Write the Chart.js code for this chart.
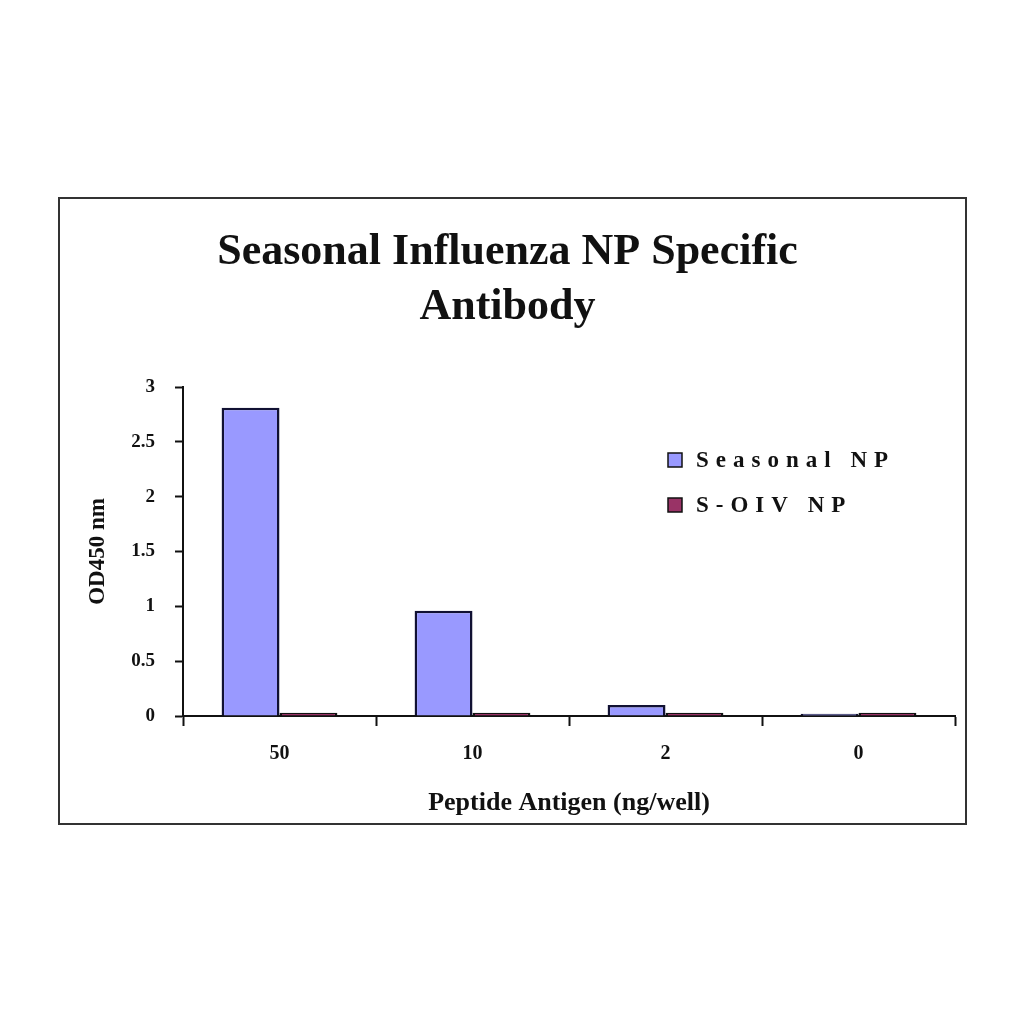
<!DOCTYPE html>
<html>
<head>
<meta charset="utf-8">
<script src="https://cdn.jsdelivr.net/npm/chart.js@4/dist/chart.umd.min.js"></script>
<style>
  body { margin: 0; background: #fff; }
  #frame {
    position: absolute;
    left: 58px; top: 197px;
    width: 905px; height: 624px;
    border: 2px solid #333;
    background: #fff;
  }
  canvas { display: block; }
</style>
</head>
<body>
<div id="frame"><canvas id="chart" width="905" height="624"></canvas></div>
<script>
const categories = ["50", "10", "2", "0"];
const seasonalNP = [2.81, 0.96, 0.1, 0.02];
const soivNP = [0.03, 0.03, 0.03, 0.03];
const seriesNames = ["Seasonal NP", "S-OIV NP"];
const titleLines = ["Seasonal Influenza NP Specific", "Antibody"];

const serif = "'Liberation Serif', 'DejaVu Serif', serif";

// legend drawn inside the plot, like the original sheet
const legendInPlot = {
  id: "legendInPlot",
  afterDraw(chart) {
    const ctx = chart.ctx;
    const area = chart.chartArea;
    ctx.save();
    chart.data.datasets.forEach((ds, i) => {
      const x = area.left + 485;
      const y = area.top + 73 + i * 45;
      ctx.fillStyle = ds.backgroundColor;
      ctx.fillRect(x, y - 7, 14, 14);
      ctx.strokeStyle = "#111";
      ctx.lineWidth = 1.5;
      ctx.strokeRect(x, y - 7, 14, 14);
      ctx.fillStyle = "#111";
      ctx.font = "bold 23px " + serif;
      ctx.letterSpacing = "7px";
      ctx.textBaseline = "middle";
      ctx.fillText(ds.label, x + 28, y + 1);
    });
    ctx.restore();
  }
};

new Chart(document.getElementById("chart"), {
  type: "bar",
  data: {
    labels: categories,
    datasets: [
      {
        label: seriesNames[0],
        data: seasonalNP,
        backgroundColor: "#9999ff",
        borderColor: "#111133",
        borderWidth: 2.5,
      },
      {
        label: seriesNames[1],
        data: soivNP,
        backgroundColor: "#993366",
        borderColor: "#111",
        borderWidth: 2.5,
      },
    ],
  },
  options: {
    responsive: false,
    animation: false,
    datasets: {
      bar: { categoryPercentage: 0.6, barPercentage: 1.0 },
    },
    layout: { padding: { left: 0, right: 10, top: 0, bottom: 0 } },
    plugins: {
      legend: { display: false },
      tooltip: { enabled: false },
      title: {
        display: true,
        text: titleLines,
        color: "#111",
        font: { family: serif, size: 44, weight: "bold", lineHeight: 1.25 },
        padding: { top: 26, bottom: 52 },
      },
    },
    scales: {
      x: {
        afterFit: (s) => { s.height = 107; },
        grid: {
          offset: true,
          drawOnChartArea: false,
          drawTicks: true,
          tickLength: 10,
          tickColor: "#111",
          tickWidth: 2,
        },
        border: { color: "#111", width: 2 },
        ticks: {
          color: "#111",
          padding: 16,
          font: { family: serif, size: 20, weight: "bold" },
        },
        title: {
          display: true,
          text: "Peptide Antigen (ng/well)",
          color: "#111",
          padding: { top: 30 },
          font: { family: serif, size: 26, weight: "bold" },
        },
      },
      y: {
        min: 0,
        max: 3,
        afterFit: (s) => { s.width = 123; },
        grid: {
          drawOnChartArea: false,
          drawTicks: true,
          tickLength: 8,
          tickColor: "#111",
          tickWidth: 2,
        },
        border: { color: "#111", width: 2 },
        ticks: {
          stepSize: 0.5,
          color: "#111",
          padding: 20,
          font: { family: serif, size: 19, weight: "bold" },
          callback: (v) => String(Number(v)),
        },
        title: {
          display: true,
          text: "OD450 nm",
          color: "#111",
          padding: { top: 24, bottom: 0 },
          font: { family: serif, size: 23, weight: "bold" },
        },
      },
    },
  },
  plugins: [legendInPlot],
});
</script>
</body>
</html>
